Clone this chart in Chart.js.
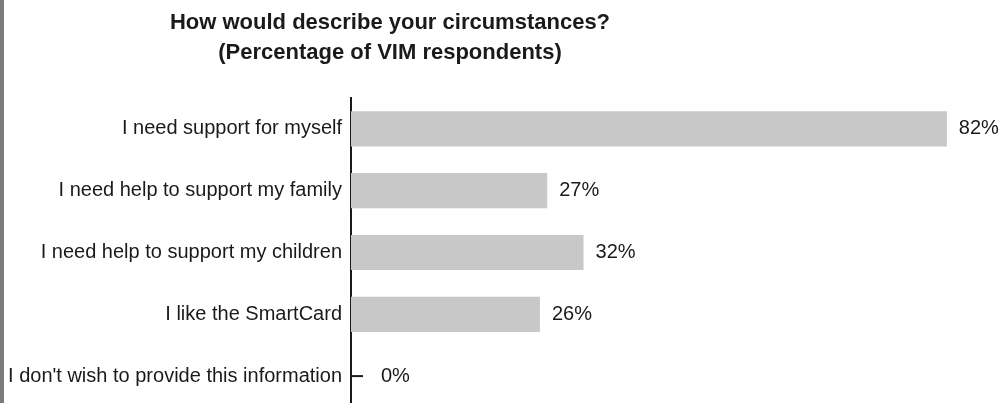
<!DOCTYPE html>
<html>
<head>
<meta charset="utf-8">
<script src="https://cdn.jsdelivr.net/npm/chart.js@4/dist/chart.umd.min.js"></script>
<style>
  html, body { margin: 0; padding: 0; background: #fff; overflow: hidden; }
  #wrap { position: relative; width: 1005px; height: 403px; overflow: hidden; }
  #stripe { position: absolute; left: 0; top: 0; width: 4px; height: 403px; background: #7b7b7b; z-index: 2; }
  #title {
    position: absolute; left: 0; top: 7px; width: 780px; text-align: center;
    font: bold 22px "Liberation Sans", Arial, sans-serif; line-height: 30px; color: #1a1a1a;
  }
  #c { position: absolute; left: 0; top: 0; }
</style>
</head>
<body>
<div id="wrap">
  <div id="stripe"></div>
  <canvas id="c" width="1005" height="428"></canvas>
  <div id="title">How would describe your circumstances?<br>(Percentage of VIM respondents)</div>
</div>
<script>
// --- Data ---
const categories = [
  'I need support for myself',
  'I need help to support my family',
  'I need help to support my children',
  'I like the SmartCard',
  "I don't wish to provide this information"
];
const percentages = [82, 27, 32, 26, 0];

const labelFont = { family: '"Liberation Sans", Arial, sans-serif', size: 20 };

// value labels at the end of each bar, with a short leader for empty bars
const valueLabels = {
  id: 'valueLabels',
  afterDatasetsDraw(chart) {
    const ctx = chart.ctx;
    const meta = chart.getDatasetMeta(0);
    ctx.save();
    ctx.font = `${labelFont.size}px ${labelFont.family}`;
    ctx.fillStyle = '#1a1a1a';
    ctx.textBaseline = 'middle';
    meta.data.forEach((bar, i) => {
      const v = percentages[i];
      let x = bar.x + 12;
      if (v === 0) {
        ctx.strokeStyle = '#1a1a1a';
        ctx.lineWidth = 2;
        ctx.beginPath();
        ctx.moveTo(bar.x, bar.y);
        ctx.lineTo(bar.x + 12, bar.y);
        ctx.stroke();
        x = bar.x + 30;
      }
      ctx.fillText(v + '%', x, bar.y);
    });
    ctx.restore();
  }
};

new Chart(document.getElementById('c'), {
  type: 'bar',
  data: {
    labels: categories,
    datasets: [{
      data: percentages,
      backgroundColor: '#c8c8c8',
      borderWidth: 0,
      barPercentage: 0.57,
      categoryPercentage: 1
    }]
  },
  options: {
    indexAxis: 'y',
    responsive: false,
    animation: false,
    layout: { padding: { top: 98, bottom: 0, left: 0, right: 0 } },
    plugins: { legend: { display: false }, tooltip: { enabled: false } },
    scales: {
      x: { display: false, min: 0, max: 90 },
      y: {
        afterFit(scale) { scale.width = 351; },
        grid: { display: false, drawTicks: false },
        border: { display: true, color: '#1a1a1a', width: 2 },
        ticks: { color: '#1a1a1a', font: labelFont, padding: 9 }
      }
    }
  },
  plugins: [valueLabels]
});
</script>
</body>
</html>
